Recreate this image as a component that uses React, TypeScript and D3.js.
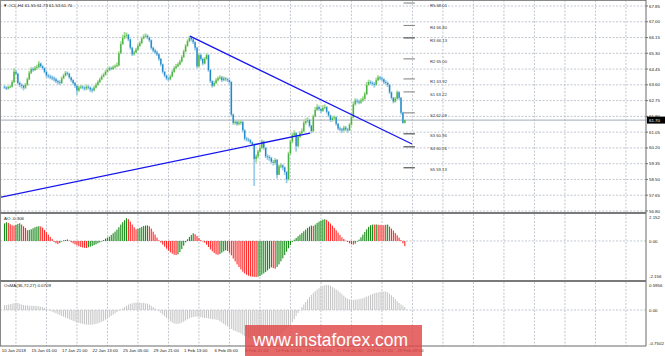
import React, { useEffect } from 'react';
import * as d3 from 'd3';

// ---------- DATA ----------
const firstOpen = 63.5;
const closes = [
  63.45,63.40,63.48,63.50,63.75,64.30,64.20,63.70,63.60,63.55,
  63.45,63.60,63.90,64.25,64.45,64.40,64.50,64.55,64.75,64.60,
  64.50,64.30,64.10,64.05,64.00,63.95,63.90,63.80,63.75,63.70,
  63.95,64.10,64.25,64.20,64.00,63.85,63.70,63.55,63.30,63.45,
  63.50,63.45,63.40,63.50,63.45,63.35,63.30,63.45,63.60,63.75,
  63.90,64.05,64.15,64.30,64.40,64.50,64.45,64.55,64.60,64.65,
  65.30,65.80,66.15,66.25,66.30,66.05,65.60,65.25,65.35,65.50,
  65.70,65.85,66.10,66.20,66.25,66.15,66.00,65.60,65.45,65.35,
  65.25,65.00,64.70,64.30,64.10,63.95,63.90,64.05,64.30,64.50,
  64.60,64.70,64.85,65.10,65.40,65.70,65.95,66.15,66.05,65.90,
  65.60,64.60,65.20,65.00,64.75,65.00,65.20,64.40,63.80,63.55,
  63.70,63.85,63.95,64.00,63.85,63.95,63.90,63.85,63.75,62.00,
  61.55,61.60,61.50,61.55,61.60,61.15,60.70,60.65,60.62,60.50,
  60.38,59.60,59.75,60.00,60.20,60.55,60.20,59.75,59.70,59.65,
  59.45,59.40,59.55,58.75,59.20,59.25,59.15,58.90,58.50,59.90,
  60.55,60.90,61.00,60.30,60.80,61.00,61.10,61.55,61.65,61.70,
  61.40,61.10,61.90,62.25,62.40,62.30,62.20,62.35,62.40,62.15,
  61.95,61.70,61.80,61.85,61.50,61.25,61.20,61.15,61.30,61.20,
  61.15,61.45,61.85,62.55,62.75,62.70,62.65,62.75,62.85,63.10,
  63.60,63.75,63.70,63.65,63.60,63.85,64.00,63.95,63.90,63.75,
  63.70,63.60,63.20,62.90,62.70,62.85,63.20,62.90,62.10,61.55,61.70,
];
const highs = [
  63.58,63.52,63.55,63.60,63.85,64.50,64.42,64.25,63.78,63.68,
  63.62,63.70,64.00,64.35,64.55,64.55,64.62,64.68,64.88,64.80,
  64.68,64.55,64.35,64.20,64.15,64.10,64.05,63.98,63.88,63.85,
  64.05,64.20,64.35,64.32,64.25,64.05,63.90,63.75,63.60,63.55,
  63.60,63.58,63.52,63.62,63.58,63.52,63.45,63.55,63.70,63.85,
  64.00,64.15,64.25,64.40,64.50,64.60,64.58,64.65,64.70,64.80,
  65.40,65.95,66.30,66.45,66.42,66.35,66.10,65.65,65.45,65.60,
  65.80,65.95,66.20,66.32,66.38,66.32,66.20,66.05,65.65,65.55,
  65.45,65.30,65.05,64.75,64.35,64.15,64.05,64.15,64.40,64.60,
  64.72,64.80,64.95,65.20,65.50,65.80,66.05,66.25,66.20,66.10,
  65.95,65.65,65.30,65.30,65.05,65.10,65.30,65.25,64.45,63.85,
  63.80,63.95,64.05,64.12,64.08,64.05,64.02,63.98,63.90,63.80,
  62.05,61.70,61.68,61.65,61.70,61.65,61.20,60.80,60.75,60.68,
  60.55,60.45,59.85,60.10,60.35,60.65,60.60,60.25,59.85,59.80,
  59.72,59.55,59.65,59.60,59.30,59.38,59.32,59.20,58.95,60.00,
  60.65,61.00,61.15,61.05,60.90,61.10,61.25,61.65,61.80,61.85,
  61.78,61.45,62.00,62.40,62.55,62.48,62.38,62.50,62.55,62.45,
  62.20,62.00,61.92,61.95,61.90,61.55,61.35,61.28,61.40,61.38,
  61.28,61.55,61.95,62.70,62.88,62.85,62.80,62.88,62.98,63.22,
  63.75,63.88,63.85,63.80,63.75,63.98,64.12,64.08,64.05,63.95,
  63.85,63.78,63.65,63.25,62.95,62.95,63.30,63.25,62.95,62.15,61.73,
];
const lows = [
  63.38,63.32,63.35,63.42,63.46,63.70,64.10,63.62,63.48,63.40,
  63.30,63.38,63.55,63.85,64.18,64.30,64.35,64.42,64.50,64.52,
  64.40,64.22,64.00,63.95,63.90,63.85,63.78,63.70,63.62,63.58,
  63.65,63.90,64.05,64.10,63.92,63.75,63.60,63.45,63.05,63.22,
  63.38,63.35,63.28,63.32,63.35,63.22,63.18,63.25,63.40,63.55,
  63.70,63.85,64.00,64.10,64.25,64.35,64.38,64.40,64.48,64.55,
  64.60,65.25,65.75,66.05,66.10,65.95,65.50,65.15,65.18,65.30,
  65.45,65.65,65.80,66.05,66.12,66.05,65.90,65.50,65.35,65.25,
  65.15,64.90,64.60,64.20,64.00,63.85,63.80,63.85,64.00,64.25,
  64.45,64.55,64.65,64.80,65.05,65.35,65.65,65.90,65.95,65.80,
  65.45,64.50,64.55,64.90,64.65,64.70,64.95,64.30,63.70,63.45,
  63.50,63.65,63.80,63.90,63.75,63.80,63.80,63.75,63.65,61.90,
  61.45,61.45,61.40,61.42,61.45,61.05,60.60,60.55,60.52,60.42,
  60.30,58.15,59.40,59.65,59.95,60.15,60.10,59.65,59.55,59.50,
  59.35,59.25,59.30,58.55,58.75,59.10,59.00,58.75,58.30,58.45,
  59.85,60.45,60.80,60.00,60.25,60.75,60.95,61.05,61.45,61.55,
  61.30,60.98,61.05,61.85,62.20,62.20,62.08,62.15,62.28,62.05,
  61.85,61.60,61.62,61.70,61.40,61.15,61.10,61.00,61.08,61.10,
  61.00,61.10,61.40,61.80,62.48,62.60,62.55,62.58,62.70,62.80,
  63.05,63.55,63.60,63.55,63.45,63.55,63.80,63.85,63.80,63.65,
  63.60,63.48,63.10,62.80,62.60,62.65,62.80,62.80,62.00,61.50,61.53,
];
const aoValues = [
  1.05,1.12,1.08,1.00,0.94,0.92,0.96,1.02,1.06,0.98,
  0.88,0.78,0.64,0.66,0.70,0.76,0.82,0.86,0.88,0.87,
  0.80,0.66,0.52,0.38,0.24,0.12,-0.06,-0.14,-0.18,-0.12,
  -0.04,0.04,0.06,0.09,0.03,-0.08,-0.14,-0.20,-0.26,-0.32,
  -0.36,-0.39,-0.41,-0.42,-0.38,-0.34,-0.30,-0.25,-0.20,-0.14,
  -0.08,-0.02,0.06,0.14,0.20,0.26,0.36,0.46,0.56,0.68,
  0.82,0.98,1.12,1.24,1.36,1.30,1.16,0.98,0.82,0.70,
  0.72,0.78,0.84,0.90,0.92,0.93,0.88,0.74,0.56,0.38,
  0.20,0.04,-0.10,-0.22,-0.34,-0.46,-0.58,-0.68,-0.76,-0.82,
  -0.84,-0.80,-0.66,-0.48,-0.28,-0.08,0.10,0.24,0.36,0.46,
  0.40,0.30,0.18,0.06,-0.02,-0.10,-0.22,-0.36,-0.50,-0.62,
  -0.72,-0.80,-0.83,-0.78,-0.70,-0.62,-0.56,-0.60,-0.70,-0.86,
  -1.05,-1.22,-1.40,-1.56,-1.70,-1.84,-1.94,-2.02,-2.08,-2.12,
  -2.14,-2.15,-2.156,-2.14,-2.10,-2.02,-1.94,-1.86,-1.76,-1.66,
  -1.58,-1.62,-1.66,-1.55,-1.40,-1.22,-1.04,-0.84,-0.64,-0.44,
  -0.24,-0.06,0.08,0.18,0.28,0.38,0.48,0.58,0.68,0.78,
  0.86,0.92,0.90,0.98,1.08,1.16,1.22,1.28,1.30,1.26,
  1.16,1.04,0.92,0.78,0.64,0.50,0.36,0.22,0.12,0.02,
  -0.06,-0.14,-0.20,-0.22,-0.16,-0.04,0.08,0.22,0.38,0.54,
  0.70,0.84,0.94,0.98,0.98,0.99,0.97,0.96,0.95,0.94,
  0.97,0.98,0.86,0.74,0.62,0.48,0.34,0.20,0.06,-0.14,-0.306,
];
const osmaValues = [
  0.12,0.12,0.13,0.14,0.15,0.16,0.17,0.17,0.15,0.13,
  0.12,0.11,0.11,0.10,0.10,0.10,0.10,0.09,0.09,0.08,
  0.07,0.05,0.03,0.01,-0.02,-0.04,-0.06,-0.08,-0.10,-0.12,
  -0.14,-0.16,-0.18,-0.20,-0.22,-0.24,-0.26,-0.28,-0.30,-0.31,
  -0.32,-0.33,-0.34,-0.35,-0.35,-0.35,-0.35,-0.34,-0.33,-0.32,
  -0.30,-0.28,-0.26,-0.23,-0.20,-0.17,-0.14,-0.11,-0.08,-0.05,
  -0.02,0.01,0.04,0.07,0.10,0.13,0.15,0.16,0.17,0.18,
  0.18,0.18,0.17,0.17,0.16,0.15,0.13,0.10,0.07,0.04,
  0.01,-0.03,-0.07,-0.11,-0.15,-0.19,-0.23,-0.27,-0.30,-0.32,
  -0.33,-0.33,-0.32,-0.30,-0.28,-0.25,-0.22,-0.20,-0.18,-0.17,
  -0.16,-0.16,-0.16,-0.17,-0.18,-0.19,-0.19,-0.20,-0.21,-0.22,
  -0.22,-0.23,-0.24,-0.27,-0.30,-0.33,-0.36,-0.39,-0.42,-0.45,
  -0.48,-0.50,-0.52,-0.54,-0.56,-0.59,-0.62,-0.64,-0.66,-0.68,
  -0.70,-0.72,-0.73,-0.74,-0.75,-0.7502,-0.75,-0.74,-0.73,-0.72,
  -0.70,-0.68,-0.66,-0.63,-0.60,-0.56,-0.52,-0.48,-0.44,-0.40,
  -0.36,-0.29,-0.22,-0.14,-0.07,0.00,0.07,0.13,0.19,0.25,
  0.31,0.36,0.41,0.45,0.49,0.52,0.55,0.57,0.59,0.5956,
  0.59,0.58,0.55,0.52,0.49,0.46,0.42,0.38,0.34,0.30,
  0.27,0.25,0.24,0.24,0.25,0.25,0.26,0.27,0.28,0.30,
  0.32,0.34,0.36,0.38,0.40,0.41,0.42,0.43,0.44,0.44,
  0.44,0.42,0.39,0.35,0.31,0.26,0.21,0.17,0.13,0.10,0.0709,
];
const priceTicks = [67.85,67.0,66.15,65.3,64.45,63.6,62.75,61.9,61.05,60.2,59.35,58.5,57.65,56.8];
const aoTicks = [2.152, 0, -2.156];
const osmaTicks = [0.5956, 0, -0.7502];
const timeLabels = [
  '15 Jan 01:00','17 Jan 21:00','22 Jan 13:00','25 Jan 05:00','29 Jan 21:00','1 Feb 13:00',
  '6 Feb 05:00','8 Feb 21:00','13 Feb 13:00','16 Feb 05:00','21 Feb 01:00','23 Feb 17:00','28 Feb 09:00',
];
const firstTimeLabel = '10 Jan 2018';
const pivotNames = ['R5','R4','R3','R2','R1','S1','S2','S3','S4','S5'];
const pivotValues = [68.01,66.80,66.13,65.00,63.92,63.22,62.09,60.96,60.26,59.13];
// trend lines as [barIndex, price]
const trendDown = [[97.3, 66.23],[213.8, 60.41]];
const trendUp = [[-2.4, 57.53],[160.3, 61.00]];
const lastPrice = 61.70;
const headerText = '▼ #CL,H4 61.55 61.73 61.53 61.70';
const aoTitle = 'AO -0.306';
const osmaTitle = 'OsMA(36,72,27) 0.0709';

// ---------- LAYOUT ----------
const W = 665, H = 356;
const RIGHT = 646;
const MAIN_TOP = 0, MAIN_BOT = 212;
const AO_TOP = 214, AO_BOT = 280;
const OS_TOP = 282, OS_BOT = 346;
const FONT = 'Liberation Sans, Arial, sans-serif';
const FS = 4.4;
const GRID = '#b3b9c4';

export default function App() {
  useEffect(() => {
    document.body.style.margin = '0';
  }, []);

  const x = d3.scaleLinear().domain([0, 16]).range([4.5, 4.5 + 30.5]);
  const yP = d3.scaleLinear().domain([56.8, 67.85]).range([211, 6]);
  const yAO = d3.scaleLinear().domain([-2.156, 2.152]).range([277, 205]);
  const yOs = d3.scaleLinear().domain([-0.7502, 0.5956]).range([341.5, 285]);

  const gridBars = d3.range(0, 21).map((k) => 6 + 16 * k);
  const line = d3.line<number[]>().x((d) => x(d[0])).y((d) => yP(d[1]));

  const candles = closes.map((c, i) => {
    const o = i === 0 ? firstOpen : closes[i - 1];
    const h = highs[i];
    const l = lows[i];
    const up = c >= o;
    const cx = x(i);
    const yTop = yP(Math.max(o, c));
    const yBot = yP(Math.min(o, c));
    return (
      <g key={'c' + i}>
        <line x1={cx} x2={cx} y1={yP(h)} y2={yP(l)} stroke={up ? '#a6da98' : '#9ccde9'} strokeWidth={1.8} />
        <rect x={cx - 0.65} width={1.3} y={yTop} height={Math.max(0.8, yBot - yTop)} fill={up ? '#46b342' : '#2288c8'} />
      </g>
    );
  });

  const ao0 = yAO(0);
  const aoBars = aoValues.map((v, i) => {
    const up = i === 0 ? true : v > aoValues[i - 1];
    const yv = yAO(v);
    return (
      <rect key={'a' + i} x={x(i) - 0.55} width={1.1} y={Math.min(yv, ao0)} height={Math.max(0.5, Math.abs(yv - ao0))}
        fill={up ? '#178a17' : '#ff2a2a'} />
    );
  });

  const os0 = yOs(0);
  const osBars = osmaValues.map((v, i) => {
    const yv = yOs(v);
    return (
      <rect key={'o' + i} x={x(i) - 0.5} width={1.0} y={Math.min(yv, os0)} height={Math.max(0.4, Math.abs(yv - os0))}
        fill="#c4c4c4" />
    );
  });

  const vGrid = (top: number, bot: number, key: string) =>
    gridBars.map((b) => (
      <line key={key + b} x1={x(b)} x2={x(b)} y1={top} y2={bot} stroke={GRID} strokeWidth={0.8} strokeDasharray="2,1.5" />
    ));

  const axisText = (label: string, y: number, key: string) => (
    <text key={key} x={RIGHT + 3} y={y} dy="0.35em" fontSize={FS} fontFamily={FONT} fill="#222">{label}</text>
  );

  return (
    <svg width={W} height={H} viewBox={`0 0 ${W} ${H}`} style={{ position: 'absolute', left: 0, top: 0, background: '#fff' }}>
      <defs>
        <clipPath id="clipMain"><rect x={0} y={MAIN_TOP} width={RIGHT} height={MAIN_BOT - MAIN_TOP} /></clipPath>
        <clipPath id="clipAO"><rect x={0} y={AO_TOP} width={RIGHT} height={AO_BOT - AO_TOP} /></clipPath>
        <clipPath id="clipOS"><rect x={0} y={OS_TOP} width={RIGHT} height={OS_BOT - OS_TOP} /></clipPath>
      </defs>
      <rect x={0} y={0} width={W} height={H} fill="#fff" />

      {/* grids */}
      {vGrid(MAIN_TOP, MAIN_BOT, 'gm')}
      {priceTicks.map((p) => (
        <line key={'hp' + p} x1={0} x2={RIGHT} y1={yP(p)} y2={yP(p)} stroke={GRID} strokeWidth={0.8} strokeDasharray="2,1.5" />
      ))}
      {vGrid(AO_TOP, AO_BOT, 'ga')}
      <line x1={0} x2={RIGHT} y1={ao0} y2={ao0} stroke={GRID} strokeWidth={0.8} strokeDasharray="2,1.5" />
      {vGrid(OS_TOP, OS_BOT, 'go')}
      <line x1={0} x2={RIGHT} y1={os0} y2={os0} stroke={GRID} strokeWidth={0.8} strokeDasharray="2,1.5" />

      {/* last price line */}
      <line x1={0} x2={RIGHT} y1={yP(lastPrice)} y2={yP(lastPrice)} stroke="#a3abb8" strokeWidth={1} />

      <g clipPath="url(#clipMain)">
        {candles}
        <path d={line(trendDown as number[][]) || ''} stroke="#1414f0" strokeWidth={1.3} fill="none" />
        <path d={line(trendUp as number[][]) || ''} stroke="#1414f0" strokeWidth={1.3} fill="none" />
        {pivotValues.map((v, i) => (
          <g key={'pv' + i}>
            <line x1={x(209.3)} x2={x(215.3)} y1={yP(v)} y2={yP(v)} stroke={i === 2 || i >= 7 ? '#444' : '#888'} strokeWidth={1.1} />
            <text x={x(223.2)} y={yP(v) + 2.2} dy="0.35em" fontSize={4.2} fontFamily={FONT} fill="#333">{pivotNames[i] + ' ' + v.toFixed(2)}</text>
          </g>
        ))}
      </g>

      <g clipPath="url(#clipAO)">{aoBars}</g>
      <g clipPath="url(#clipOS)">{osBars}</g>

      {/* frames and separators */}
      <line x1={0.5} x2={0.5} y1={0} y2={OS_BOT} stroke="#8a8a8a" strokeWidth={1} />
      <line x1={0} x2={RIGHT} y1={0.5} y2={0.5} stroke="#8a8a8a" strokeWidth={1} />
      <line x1={RIGHT} x2={RIGHT} y1={0} y2={OS_BOT} stroke="#6a6a6a" strokeWidth={1} />
      <line x1={0} x2={RIGHT} y1={213} y2={213} stroke="#7a7a7a" strokeWidth={2} />
      <line x1={0} x2={RIGHT} y1={281} y2={281} stroke="#7a7a7a" strokeWidth={2} />
      <line x1={0} x2={RIGHT} y1={OS_BOT} y2={OS_BOT} stroke="#6a6a6a" strokeWidth={1} />

      {/* right axis ticks & labels */}
      {priceTicks.map((p) => (
        <g key={'pt' + p}>
          <line x1={RIGHT} x2={RIGHT + 2} y1={yP(p)} y2={yP(p)} stroke="#555" strokeWidth={0.8} />
          {axisText(p.toFixed(2), yP(p), 'ptl' + p)}
        </g>
      ))}
      <rect x={RIGHT + 1} y={yP(lastPrice) - 3.5} width={W - RIGHT - 1} height={7} fill="#000" />
      <text x={RIGHT + 3} y={yP(lastPrice)} dy="0.35em" fontSize={FS} fontFamily={FONT} fill="#fff">{lastPrice.toFixed(2)}</text>

      {aoTicks.map((v, i) => axisText(v === 0 ? '0.00' : v.toFixed(3), i === 0 ? 217.3 : i === 1 ? ao0 : 276.7, 'at' + i))}
      {osmaTicks.map((v, i) => axisText(v === 0 ? '0.00' : v.toFixed(4), i === 0 ? 285 : i === 1 ? os0 : 343.3, 'ot' + i))}

      {/* titles */}
      <text x={3} y={5} dy="0.35em" fontSize={FS} fontFamily={FONT} fill="#222">{headerText}</text>
      <text x={4} y={218.5} dy="0.35em" fontSize={FS} fontFamily={FONT} fill="#222">{aoTitle}</text>
      <text x={4} y={285.7} dy="0.35em" fontSize={FS} fontFamily={FONT} fill="#222">{osmaTitle}</text>

      {/* time axis */}
      <text x={1.7} y={350.5} dy="0.35em" fontSize={FS} fontFamily={FONT} fill="#222">{firstTimeLabel}</text>
      {timeLabels.map((t, k) => (
        <text key={'tl' + k} x={x(14 + 16 * k) + 0.3} y={350.5} dy="0.35em" fontSize={FS} fontFamily={FONT} fill="#222">{t}</text>
      ))}

      {/* watermark */}
      <rect x={245} y={325} width={177} height={31} fill="#e04848" fillOpacity={0.82} />
      <text x={253} y={345.5} fontSize={18} fontFamily={FONT} fill="#fff" textLength={155} lengthAdjust="spacingAndGlyphs">www.instaforex.com</text>
    </svg>
  );
}
